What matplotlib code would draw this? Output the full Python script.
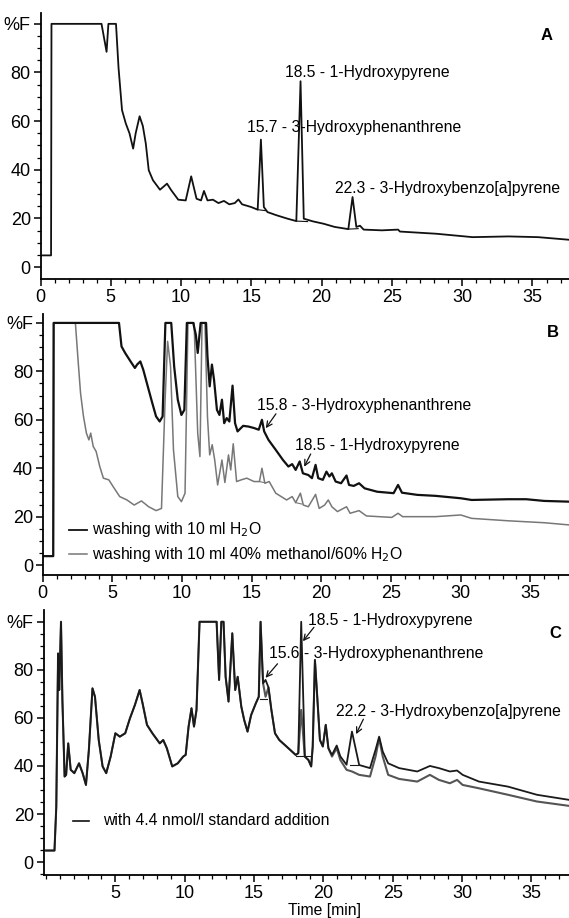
import matplotlib.pyplot as plt
from matplotlib.ticker import MultipleLocator, FixedLocator, FixedFormatter
import matplotlib.transforms as mtransforms
import matplotlib
matplotlib.rcParams['font.family'] = ['Liberation Sans', 'DejaVu Sans']

# ---- Panel A: sample chromatogram ----
a_time = [0, 0.75, 0.78, 4.34, 4.7, 4.83, 5.37, 5.55, 5.8, 6.07, 6.33, 6.59, 6.77, 7.05, 7.28,
          7.49, 7.7, 8.0, 8.5, 9.0, 9.3, 9.8, 10.33, 10.72, 11.1, 11.42, 11.63, 11.88, 12.27,
          12.66, 13.05, 13.43, 13.82, 14.08, 14.34, 14.98, 15.45, 15.68, 15.89, 16.15, 16.79,
          17.57, 18.2, 18.5, 18.73, 19.37, 20.15, 20.93, 21.9, 22.2, 22.47, 22.73, 22.99,
          24.28, 25.44, 25.57, 28.16, 30.74, 33.3, 35.4, 37.66]
a_signal = [4.8, 4.8, 100, 100, 88.5, 100, 100, 82, 64.5, 59, 55, 48.7, 55, 62, 58,
            50.8, 39.8, 35.7, 31.8, 34.3, 31.6, 27.7, 27.4, 37.3, 28.1, 27.4, 31.3, 27.4, 27.7,
            26.3, 27.2, 25.8, 26.3, 27.8, 25.8, 24.7, 23.6, 52.4, 24.7, 22.6, 21.3,
            19.9, 18.9, 76.4, 19.9, 18.8, 17.8, 16.5, 15.6, 28.8, 16.5, 17.0, 15.4,
            15.1, 15.4, 14.6, 13.7, 12.3, 12.6, 12.3, 11.2]
a_base_t = [(15.45, 16.0), (18.2, 19.0), (21.9, 22.6)]
a_base_y = [(23.6, 23.2), (18.9, 18.7), (15.6, 15.8)]

# ---- Panel B: two washing procedures ----
b1_time = [0, 0.75, 0.78, 5.47, 5.65, 5.91, 6.3, 6.61, 6.77, 7.0, 7.21, 7.6, 7.86, 8.13, 8.39,
           8.6, 8.8, 9.22, 9.43, 9.69, 9.95, 10.16, 10.34, 10.8, 10.99, 11.12, 11.33, 11.72,
           11.82, 11.98, 12.14, 12.29, 12.5, 12.68, 12.86, 13.02, 13.2, 13.39, 13.62, 13.8,
           13.98, 14.38, 14.77, 15.16, 15.5, 15.73, 15.89, 16.2, 16.72, 17.24, 17.63, 17.9,
           18.15, 18.44, 18.67, 19.06, 19.32, 19.58, 19.77, 20.1, 20.36, 20.57, 20.75, 21.02,
           21.41, 21.8, 21.98, 22.32, 22.7, 23.1, 24.0, 25.18, 25.5, 25.78, 26.88, 28.18,
           30.0, 30.78, 33.39, 34.7, 35.99, 37.76]
b1_signal = [3.7, 3.7, 100, 100, 90.3, 87.6, 84.1, 81.4, 82.8, 84.1, 80.7, 72.4, 66.9, 61.4, 59.3,
             61.4, 100, 100, 82, 68.3, 62, 64.1, 100, 100, 95, 87.6, 100, 100,
             86.2, 73.8, 82.8, 76.6, 64.1, 62, 68.3, 58.6, 60.7, 59.3, 74.1, 58.6,
             55.2, 57.5, 57.2, 56.6, 55.9, 60, 55.2, 51.7, 47.6, 43.4, 40.7, 41.7,
             39.3, 42.8, 37.9, 37.2, 35.9, 41.4, 35.9, 35.2, 38.6, 36.6, 37.9, 34.5,
             33.8, 37, 33.1, 32.7, 33.8, 31.7, 30.3, 29.7, 33.1, 29.9, 29, 28.6,
             27.6, 26.9, 27.2, 27.2, 26.5, 26.2]
b2_time = [0, 0.75, 0.78, 2.34, 2.53, 2.71, 2.92, 3.13, 3.31, 3.44, 3.62, 3.83, 4.09, 4.35,
           4.74, 5.13, 5.52, 6.04, 6.56, 7.08, 7.6, 8.13, 8.52, 8.78, 8.96, 9.17, 9.38, 9.69,
           9.95, 10.21, 10.42, 10.86, 11.12, 11.28, 11.43, 11.64, 11.82, 11.98, 12.16, 12.34,
           12.55, 12.86, 13.07, 13.33, 13.49, 13.67, 13.91, 14.24, 14.64, 15.16, 15.55, 15.73,
           15.94, 16.25, 16.72, 17.5, 17.9, 18.15, 18.49, 18.7, 19.06, 19.58, 19.84, 20.23,
           20.49, 20.75, 21.15, 21.8, 22.06, 22.7, 23.23, 25.05, 25.5, 25.83, 28.18, 30.0,
           30.78, 33.39, 35.99, 37.76]
b2_signal = [3.7, 3.7, 100, 100, 84.8, 71, 61.4, 54.5, 51.7, 54.5, 49, 46.9, 40.7, 35.9,
             35.2, 31.7, 28.3, 26.9, 24.8, 26.5, 24.1, 22.5, 23.4, 68.3, 92.4, 82, 47.6, 28.3,
             26.2, 29.7, 100, 100, 54.5, 44.8, 100, 100, 61.4, 45.5, 49.7, 43.4,
             33.1, 43.4, 34.1, 45.5, 39.3, 50.1, 34.5, 35.2, 35.9, 34.5, 34.5, 40,
             33.8, 34.5, 29.7, 26.9, 28.3, 25.8, 29.7, 24.8, 24.1, 29.2, 23.4, 24.8,
             26.9, 24.1, 22.1, 24.1, 21.4, 22.5, 20.3, 19.7, 21.4, 20, 20, 20.7,
             19.3, 18.3, 17.5, 16.6]
b_base_t = [(15.55, 15.95), (18.15, 18.6)]
b_base_y = [(34.5, 34.0), (25.8, 25.2)]

# ---- Panel C: sample with / without standard addition ----
c_time = [0, 0.61, 0.74, 0.87, 0.95, 1.08, 1.18, 1.34, 1.45, 1.6, 1.78, 2.04, 2.38, 2.64, 2.88,
          3.09, 3.35, 3.53, 3.8, 4.08, 4.34, 4.66, 5.0, 5.32, 5.71, 6.05, 6.41, 6.75, 6.96,
          7.28, 7.67, 8.2, 8.45, 8.71, 9.1, 9.5, 9.89, 10.07, 10.28, 10.49, 10.67, 10.85,
          11.07, 12.3, 12.48, 12.64, 12.8, 12.95, 13.16, 13.43, 13.64, 13.82, 14.08, 14.29,
          14.53, 14.79, 15.13, 15.34, 15.47, 15.65, 15.83, 16.04, 16.25, 16.51, 16.82, 17.34,
          18.0, 18.19, 18.4, 18.66, 18.92, 19.12, 19.23, 19.39, 19.57, 19.75, 19.96, 20.17,
          20.36, 20.62, 20.96, 21.22, 21.67, 22.06, 22.58, 23.36, 23.76, 24.02, 24.28, 24.67,
          25.46, 26.77, 27.68, 28.33, 29.12, 29.64, 30.04, 31.22, 33.31, 35.4, 37.7]
c_sample = [4.8, 4.8, 23, 86.8, 71.6, 100, 67.5, 35.6, 36.3, 49.4, 38.4, 37, 41.1, 37, 32.1,
            46.7, 72.3, 68.8, 50.8, 39.8, 37, 43.9, 53.6, 52.2, 53.6, 59.8, 65.4, 71.6, 66.1,
            57.1, 53.6, 49.4, 50.8, 47.4, 39.8, 41.1, 43.9, 44.6, 56.4, 64, 56.4, 63.3,
            100, 100, 75.8, 100, 100, 77.1, 66.8, 95.2, 71.6, 77.1, 64.7, 59.1,
            54.3, 61.2, 66.1, 68.8, 100, 74.4, 68.8, 72.7, 63.3, 53.6, 50.8, 48.1,
            44.6, 45.3, 63.3, 43.9, 42.5, 39.8, 48.1, 84.1, 67.5, 50.8, 48.1, 57.1,
            47.4, 43.9, 47.4, 42.5, 38.4, 37.7, 36.3, 35.6, 43.9, 51.5, 43.9, 36.3,
            34.6, 33.5, 36.3, 34.2, 32.8, 34.2, 32.1, 30.7, 28.0, 25.2, 23.4]
c_spiked = [4.8, 4.8, 23, 86.8, 71.6, 100, 67.5, 35.6, 36.3, 49.4, 38.4, 37, 41.1, 37, 32.1,
            46.7, 72.3, 68.8, 50.8, 39.8, 37, 43.9, 53.6, 52.2, 53.6, 59.8, 65.4, 71.6, 66.1,
            57.1, 53.6, 49.4, 50.8, 47.4, 39.8, 41.1, 43.9, 44.6, 56.4, 64, 56.4, 63.3,
            100, 100, 75.8, 100, 100, 77.1, 66.8, 95.2, 71.6, 77.1, 64.7, 59.1,
            54.3, 61.2, 66.1, 68.8, 100, 74.4, 75.8, 72.7, 63.3, 53.6, 50.8, 48.1,
            44.6, 45.3, 100, 43.9, 42.5, 39.8, 48.1, 84.1, 67.5, 50.8, 48.1, 57.1,
            47.4, 44.6, 48.5, 44.0, 40.5, 54.3, 40.4, 39.1, 46.7, 52.2, 46.0, 41.1,
            39.1, 37.7, 40.0, 39.1, 37.7, 38.1, 36.3, 33.5, 31.4, 28.0, 25.9]
c_base_t = [(15.4, 15.9), (18.0, 19.0), (21.9, 22.5)]
c_base_y = [(68.0, 68.0), (44.0, 44.0), (40.5, 40.5)]

ylabels = ['0', '20', '40', '60', '80', '%F']
yticks = [0, 20, 40, 60, 80, 100]

fig = plt.figure(figsize=(5.69, 9.18), dpi=100)
axA = fig.add_axes([0.0712, 0.6961, 0.9288, 0.2901])
axB = fig.add_axes([0.0752, 0.3736, 0.9248, 0.2844])
axC = fig.add_axes([0.0765, 0.0468, 0.9235, 0.2887])


def style(ax, xlim, ylim, xticks):
    ax.set_xlim(*xlim)
    ax.set_ylim(*ylim)
    for s in ['top', 'right']:
        ax.spines[s].set_visible(False)
    for s in ['left', 'bottom']:
        ax.spines[s].set_linewidth(1.3)
    ax.yaxis.set_major_locator(FixedLocator(yticks))
    ax.yaxis.set_major_formatter(FixedFormatter(ylabels))
    ax.yaxis.set_minor_locator(MultipleLocator(5))
    ax.xaxis.set_major_locator(FixedLocator(xticks))
    ax.xaxis.set_minor_locator(MultipleLocator(1))
    ax.tick_params(which='major', length=5, width=1.1, labelsize=13, pad=2)
    ax.tick_params(which='minor', length=3, width=0.9)


# A
axA.plot(a_time, a_signal, color='#111111', lw=1.3)
for bt, by in zip(a_base_t, a_base_y):
    axA.plot(bt, by, color='#111111', lw=0.8)
style(axA, (0, 37.6), (-4.9, 104.6), [0, 5, 10, 15, 20, 25, 30, 35])
axA.text(36.0, 95.3, 'A', fontsize=12, fontweight='bold', ha='center', va='center')
axA.text(17.36, 79.8, '18.5 - 1-Hydroxypyrene', fontsize=11.3, va='center')
axA.text(14.72, 57.2, '15.7 - 3-Hydroxyphenanthrene', fontsize=11.3, va='center')
axA.text(20.92, 32.5, '22.3 - 3-Hydroxybenzo[a]pyrene', fontsize=11.3, va='center')

# B
axB.plot(b2_time, b2_signal, color='#777777', lw=1.1)
axB.plot(b1_time, b1_signal, color='#111111', lw=1.6)
for bt, by in zip(b_base_t, b_base_y):
    axB.plot(bt, by, color='#777777', lw=0.8)
style(axB, (0, 37.77), (-4.1, 103.7), [0, 5, 10, 15, 20, 25, 30, 35])
axB.text(36.6, 96, 'B', fontsize=12, fontweight='bold', ha='center', va='center')
axB.text(15.36, 65.8, '15.8 - 3-Hydroxyphenanthrene', fontsize=11.3, va='center')
axB.annotate('', xy=(15.89, 55.6), xytext=(16.85, 63.4),
             arrowprops=dict(arrowstyle='->', color='#111111', lw=0.9))
axB.text(18.07, 49.4, '18.5 - 1-Hydroxypyrene', fontsize=11.3, va='center')
axB.annotate('', xy=(18.67, 39.6), xytext=(19.32, 46.9),
             arrowprops=dict(arrowstyle='->', color='#111111', lw=0.9))
axB.plot([1.88, 3.18], [14.5, 14.5], color='#111111', lw=1.3)
axB.plot([1.88, 3.18], [4.5, 4.5], color='#777777', lw=1.1)
axB.text(3.5, 14.5, 'washing with 10 ml H$_2$O', fontsize=11.3, va='center')
axB.text(3.5, 4.5, 'washing with 10 ml 40% methanol/60% H$_2$O', fontsize=11.3, va='center')

# C
axC.plot(c_time, c_sample, color='#555555', lw=1.5)
axC.plot(c_time, c_spiked, color='#1a1a1a', lw=1.3)
for bt, by in zip(c_base_t, c_base_y):
    axC.plot(bt, by, color='#1a1a1a', lw=0.8)
style(axC, (-0.18, 37.71), (-5.4, 104.9), [5, 10, 15, 20, 25, 30, 35])
axC.text(36.7, 95.2, 'C', fontsize=12, fontweight='bold', ha='center', va='center')
axC.text(18.87, 100.4, '18.5 - 1-Hydroxypyrene', fontsize=11.3, va='center')
axC.annotate('', xy=(18.4, 91), xytext=(19.44, 98.6),
             arrowprops=dict(arrowstyle='->', color='#111111', lw=0.9))
axC.text(16.09, 86.8, '15.6 - 3-Hydroxyphenanthrene', fontsize=11.3, va='center')
axC.annotate('', xy=(15.7, 75.8), xytext=(16.82, 83.4),
             arrowprops=dict(arrowstyle='->', color='#111111', lw=0.9))
axC.text(20.88, 62.6, '22.2 - 3-Hydroxybenzo[a]pyrene', fontsize=11.3, va='center')
axC.annotate('', xy=(22.27, 52.2), xytext=(22.97, 60.5),
             arrowprops=dict(arrowstyle='->', color='#111111', lw=0.9))
axC.plot([1.91, 3.09], [17.2, 17.2], color='#111111', lw=1.2)
axC.text(4.14, 17.2, 'with 4.4 nmol/l standard addition', fontsize=11.3, va='center')
trans = mtransforms.blended_transform_factory(axC.transData, fig.transFigure)
axC.text(20.1, 1 - 903 / 918, 'Time [min]', fontsize=11.3, ha='center', va='top',
         transform=trans)

fig.savefig('out.png', dpi=100)
